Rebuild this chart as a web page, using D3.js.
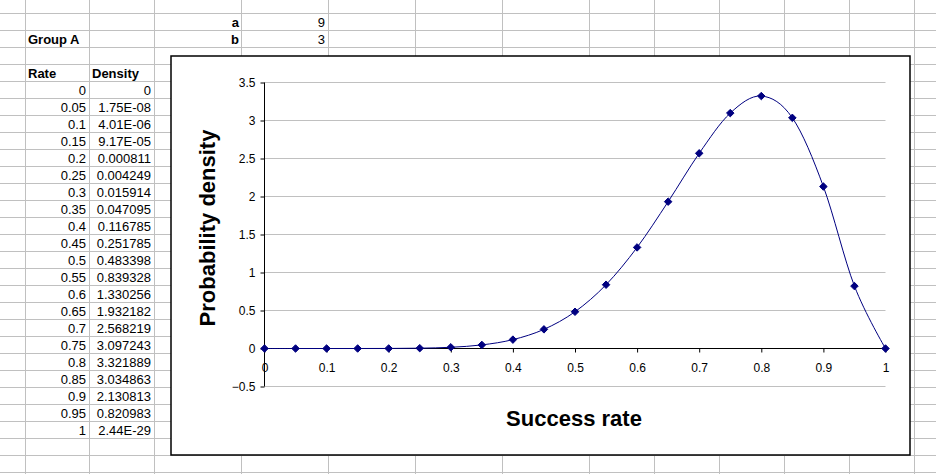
<!DOCTYPE html>
<html><head><meta charset="utf-8">
<script src="https://cdn.jsdelivr.net/npm/d3@7"></script>
<style>
html,body{margin:0;padding:0;background:#fff;}
svg{display:block;}
text{font-family:"Liberation Sans",Arial,sans-serif;}
</style></head>
<body>
<svg id="c" width="936" height="474"></svg>
<script>
// ---- data ----
const paramNames = ["a", "b"];
const paramValues = [9, 3];
const groupLabel = "Group A";
const rateLabels = ["0","0.05","0.1","0.15","0.2","0.25","0.3","0.35","0.4","0.45","0.5","0.55","0.6","0.65","0.7","0.75","0.8","0.85","0.9","0.95","1"];
const rates = [0,0.05,0.1,0.15,0.2,0.25,0.3,0.35,0.4,0.45,0.5,0.55,0.6,0.65,0.7,0.75,0.8,0.85,0.9,0.95,1];
const densityLabels = ["0","1.75E-08","4.01E-06","9.17E-05","0.000811","0.004249","0.015914","0.047095","0.116785","0.251785","0.483398","0.839328","1.330256","1.932182","2.568219","3.097243","3.321889","3.034863","2.130813","0.820983","2.44E-29"];
const densities = [0,1.75e-8,4.01e-6,9.17e-5,0.000811,0.004249,0.015914,0.047095,0.116785,0.251785,0.483398,0.839328,1.330256,1.932182,2.568219,3.097243,3.321889,3.034863,2.130813,0.820983,2.44e-29];
const xTicks = [0,0.1,0.2,0.3,0.4,0.5,0.6,0.7,0.8,0.9,1];
const yTicks = [-0.5,0,0.5,1,1.5,2,2.5,3,3.5];
const xTitle = "Success rate";
const yTitle = "Probability density";

const svg = d3.select("#c");

// ---- spreadsheet grid ----
const colLines = [25,89,154,241,328,415,502,589,654,719,784,849,914];
const rowTop = 13, rowH = 17, nRows = 28;
const grid = svg.append("g").attr("stroke","#c0c0c0").attr("stroke-width",1);
colLines.forEach(x => grid.append("line").attr("x1",x+0.5).attr("x2",x+0.5).attr("y1",0).attr("y2",474));
for (let i = 0; i < nRows; i++) {
  const y = rowTop + i*rowH;
  grid.append("line").attr("x1",0).attr("x2",936).attr("y1",y+0.5).attr("y2",y+0.5);
}
const rowBase = r => rowTop + (r+1)*rowH - 3; // baseline of row r (row 0 is 13..30)
const cells = svg.append("g").attr("font-size","13px").attr("fill","#000");
// params
paramNames.forEach((n,i) => {
  cells.append("text").attr("x",239).attr("y",rowBase(i)).attr("text-anchor","end").attr("font-weight","bold").text(n);
  cells.append("text").attr("x",325).attr("y",rowBase(i)).attr("text-anchor","end").text(paramValues[i]);
});
cells.append("text").attr("x",28).attr("y",rowBase(1)).attr("font-weight","bold").text(groupLabel);
cells.append("text").attr("x",28).attr("y",rowBase(3)).attr("font-weight","bold").text("Rate");
cells.append("text").attr("x",92).attr("y",rowBase(3)).attr("font-weight","bold").text("Density");
rateLabels.forEach((t,i) => {
  cells.append("text").attr("x",86).attr("y",rowBase(4+i)).attr("text-anchor","end").text(t);
  cells.append("text").attr("x",151).attr("y",rowBase(4+i)).attr("text-anchor","end").text(densityLabels[i]);
});

// ---- chart box ----
svg.append("rect").attr("x",171).attr("y",56).attr("width",739).attr("height",399)
  .attr("fill","#fff").attr("stroke","#000").attr("stroke-width",1.5);

const x = d3.scaleLinear().domain([0,1]).range([264.5,885.5]);
const y = d3.scaleLinear().domain([-0.5,3.5]).range([386.5,82.5]);

// gridlines
const g = svg.append("g");
g.selectAll("line.grid").data(yTicks.filter(v => v !== 0)).join("line")
  .attr("x1",x(0)).attr("x2",x(1)).attr("y1",d=>y(d)).attr("y2",d=>y(d))
  .attr("stroke","#c0c0c0").attr("stroke-width",1);

// y axis
const yAxis = d3.axisLeft(y).tickValues(yTicks).tickSize(4).tickPadding(5).tickFormat(d3.format("~g"));
const ya = svg.append("g").attr("transform",`translate(${x(0)},0)`).call(yAxis);
ya.select(".domain").attr("stroke","#000").attr("d",`M0,${y(-0.5)}V${y(3.5)}`);
ya.selectAll(".tick line").attr("stroke","#000");
ya.selectAll("text").attr("font-size","12px").attr("fill","#000").attr("font-family","Liberation Sans, Arial, sans-serif");

// x axis at y=0
const xAxis = d3.axisBottom(x).tickValues(xTicks).tickSize(4).tickPadding(11).tickFormat(d3.format("~g"));
const xa = svg.append("g").attr("transform",`translate(0,${y(0)})`).call(xAxis);
xa.select(".domain").attr("stroke","#000").attr("d",`M${x(0)},0H${x(1)}`);
xa.selectAll(".tick line").attr("stroke","#000");
xa.selectAll("text").attr("font-size","12px").attr("fill","#000").attr("font-family","Liberation Sans, Arial, sans-serif");

// series
const pts = rates.map((r,i) => [r, densities[i]]);
const line = d3.line().x(d=>x(d[0])).y(d=>y(d[1])).curve(d3.curveCatmullRom.alpha(0));
svg.append("path").attr("d",line(pts)).attr("fill","none").attr("stroke","#000080").attr("stroke-width",1);
const dia = d3.symbol().type(d3.symbolDiamond2).size(36);
svg.selectAll("path.m").data(pts).join("path").attr("class","m")
  .attr("d",dia).attr("transform",d=>`translate(${x(d[0])},${y(d[1])})`)
  .attr("fill","#000080").attr("stroke","#000080").attr("stroke-width",1);

// titles
svg.append("text").attr("x",574).attr("y",426).attr("text-anchor","middle")
  .attr("font-size","22px").attr("font-weight","bold").attr("fill","#000").text(xTitle);
svg.append("text").attr("transform","translate(215,228) rotate(-90)").attr("text-anchor","middle")
  .attr("font-size","22px").attr("font-weight","bold").attr("fill","#000").text(yTitle);
</script>
</body></html>
